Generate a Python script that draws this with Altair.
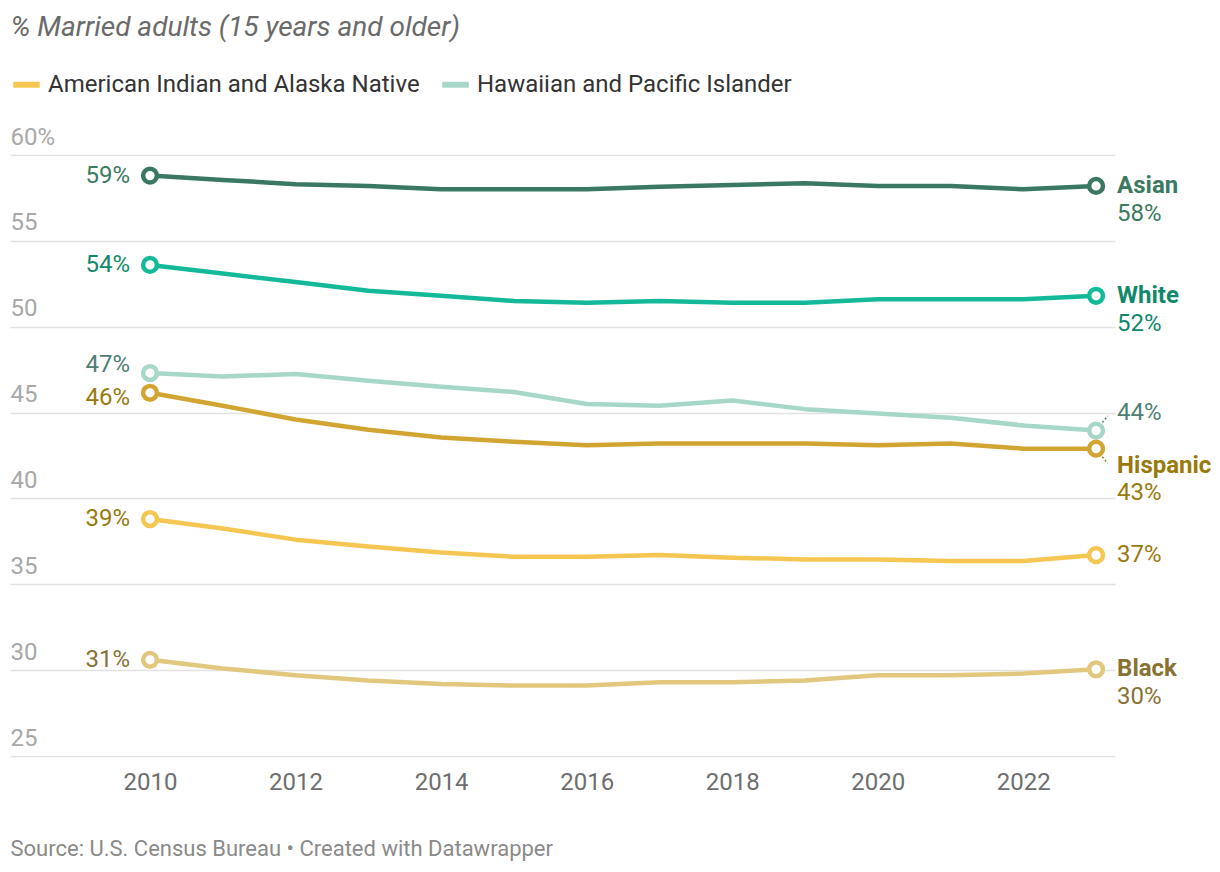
import altair as alt
import pandas as pd

years = list(range(2010, 2024))
groups = ["Asian", "White", "Hawaiian and Pacific Islander", "Hispanic",
          "American Indian and Alaska Native", "Black"]
asian = [58.8, 58.55, 58.3, 58.2, 58.0, 58.0, 58.0, 58.15, 58.25, 58.35, 58.2, 58.2, 58.0, 58.2]
white = [53.6, 53.1, 52.6, 52.1, 51.8, 51.5, 51.4, 51.5, 51.4, 51.4, 51.6, 51.6, 51.6, 51.8]
hawaiian = [47.3, 47.1, 47.25, 46.85, 46.5, 46.2, 45.5, 45.4, 45.7, 45.2, 44.95, 44.7, 44.25, 43.95]
hispanic = [46.15, 45.4, 44.6, 44.0, 43.55, 43.3, 43.1, 43.2, 43.2, 43.2, 43.1, 43.2, 42.9, 42.9]
aian = [38.8, 38.25, 37.6, 37.2, 36.85, 36.6, 36.6, 36.7, 36.55, 36.45, 36.45, 36.35, 36.35, 36.7]
black = [30.6, 30.1, 29.7, 29.4, 29.2, 29.1, 29.1, 29.3, 29.3, 29.4, 29.7, 29.7, 29.8, 30.05]
series = [asian, white, hawaiian, hispanic, aian, black]

line_colors = ["#3a7862", "#14b99a", "#a6d7c9", "#d2a532", "#f6c652", "#e2c87e"]
label_colors = ["#3b7a5f", "#11886c", "#4f7f73", "#9a790c", "#9a790c", "#877232"]
short_names = ["Asian", "White", "", "Hispanic", "", "Black"]
legend_groups = ["American Indian and Alaska Native", "Hawaiian and Pacific Islander"]

title_text = "% Married adults (15 years and older)"
source_text = "Source: U.S. Census Bureau \u2022 Created with Datawrapper"
x_ticks = [2010, 2012, 2014, 2016, 2018, 2020, 2022]
y_ticks = [25, 30, 35, 40, 45, 50, 55, 60]

rows = []
for g, vals, sn, lc in zip(groups, series, short_names, label_colors):
    for yr, v in zip(years, vals):
        rows.append({"year": yr, "group": g, "value": v, "name": sn,
                     "pct": f"{round(v):.0f}%", "lcolor": lc})
df = pd.DataFrame(rows)

FONT = "Roboto"
color_scale = alt.Scale(domain=groups, range=line_colors)

x_enc = alt.X("year:Q", scale=alt.Scale(domain=[2008.076, 2023.26], nice=False, zero=False),
              axis=alt.Axis(values=x_ticks, format="d", grid=False, domain=False, ticks=False,
                            labelFontSize=24, labelColor="#6e6e6e", labelFont=FONT,
                            labelPadding=14, title=source_text, titleX=0, titleY=92,
                            titleAlign="left", titleAnchor="start", titleBaseline="middle",
                            titleFontWeight="normal", titleFontSize=22, titleColor="#8a8a8a",
                            titleFont=FONT))
y_enc = alt.Y("value:Q", scale=alt.Scale(domain=[25, 60], nice=False, zero=False),
              axis=alt.Axis(values=y_ticks, grid=True, gridColor="#e2e2e2", gridWidth=1.5,
                            domain=False, ticks=False, labelAlign="left", labelBaseline="bottom",
                            labelPadding=0, labelOffset=-6, labelFontSize=24,
                            labelColor="#a8a8a8", labelFont=FONT,
                            labelExpr="datum.value == 60 ? '60%' : datum.label",
                            title=title_text, titleX=0, titleY=-128, titleAngle=0,
                            titleAlign="left", titleBaseline="middle", titleFontStyle="italic",
                            titleFontWeight="normal", titleFontSize=28, titleColor="#6a6a6a",
                            titleFont=FONT))

base = alt.Chart(df)

lines = base.mark_line(strokeWidth=4.5, strokeJoin="round", strokeCap="round").encode(
    x=x_enc, y=y_enc,
    color=alt.Color("group:N", scale=color_scale,
                    legend=alt.Legend(values=legend_groups, orient="none", legendX=0, legendY=-87,
                                      direction="horizontal", title=None, symbolType="stroke",
                                      symbolStrokeWidth=6, symbolSize=700, labelFontSize=24,
                                      labelColor="#333333", labelFont=FONT, columnPadding=10,
                                      labelOffset=5, labelLimit=0)),
    order="year:Q",
)

points = base.transform_filter("datum.year == 2010 || datum.year == 2023").mark_point(
    shape="circle", filled=True, fill="white", size=190, strokeWidth=4.5, opacity=1
).encode(x="year:Q", y="value:Q",
         stroke=alt.Stroke("group:N", scale=color_scale, legend=None))

connectors = base.transform_filter(
    "datum.year == 2023 && (datum.group == 'Hawaiian and Pacific Islander' || datum.group == 'Hispanic')"
).transform_calculate(
    sgn="datum.group == 'Hispanic' ? -1 : 1",
    x1="datum.year + 0.05", x2="datum.year + 0.16",
    y1="datum.value + datum.sgn * 0.3", y2="datum.value + datum.sgn * 0.85",
).mark_rule(strokeWidth=1.5, strokeDash=[2, 2]).encode(
    x="x1:Q", x2="x2:Q", y="y1:Q", y2="y2:Q",
    color=alt.Color("lcolor:N", scale=None),
)

def txt(filter_expr, field, dx, dy, align, bold=False):
    return base.transform_filter(filter_expr).mark_text(
        align=align, baseline="middle", dx=dx, dy=dy, fontSize=24, font=FONT,
        fontWeight="bold" if bold else "normal"
    ).encode(x="year:Q", y="value:Q", text=f"{field}:N",
             color=alt.Color("lcolor:N", scale=None))

left_normal = txt("datum.year == 2010 && datum.group != 'Hawaiian and Pacific Islander' && datum.group != 'Hispanic'", "pct", -20, 0, "right")
left_haw = txt("datum.year == 2010 && datum.group == 'Hawaiian and Pacific Islander'", "pct", -20, -8, "right")
left_his = txt("datum.year == 2010 && datum.group == 'Hispanic'", "pct", -20, 5, "right")

named = "(datum.group == 'Asian' || datum.group == 'White' || datum.group == 'Black')"
right_name = txt(f"datum.year == 2023 && {named}", "name", 21, 0, "left", bold=True)
right_pct = txt(f"datum.year == 2023 && {named}", "pct", 21, 28, "left")
right_aian = txt("datum.year == 2023 && datum.group == 'American Indian and Alaska Native'", "pct", 21, 0, "left")
right_haw = txt("datum.year == 2023 && datum.group == 'Hawaiian and Pacific Islander'", "pct", 21, -18, "left")
right_his_name = txt("datum.year == 2023 && datum.group == 'Hispanic'", "name", 21, 17, "left", bold=True)
right_his_pct = txt("datum.year == 2023 && datum.group == 'Hispanic'", "pct", 21, 44, "left")

chart = alt.layer(lines, connectors, points, left_normal, left_haw, left_his, right_name, right_pct,
                  right_aian, right_haw, right_his_name, right_his_pct).properties(
    width=1105, height=601,
    background="white",
    autosize=alt.AutoSizeParams(type="none"),
    padding={"left": 2, "top": 147, "right": 97, "bottom": 108},
).configure_view(strokeWidth=0, stroke=None)

chart.save("out.html", embed_options={"renderer": "svg", "actions": False})
